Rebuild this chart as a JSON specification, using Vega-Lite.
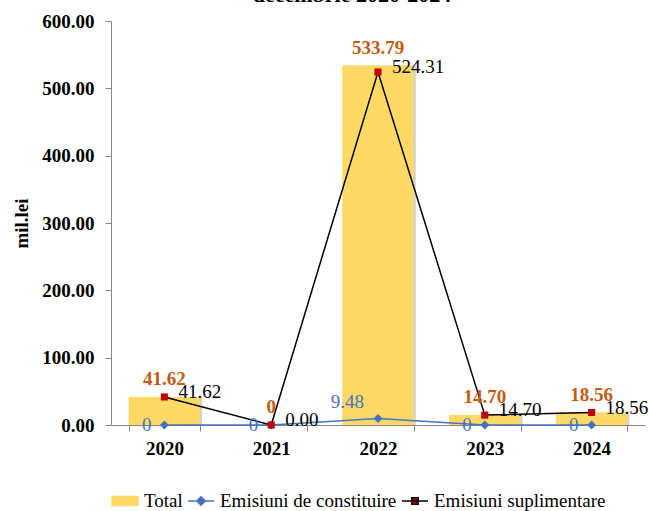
{
  "$schema": "https://vega.github.io/schema/vega-lite/v6.json",
  "width": 534,
  "height": 404,
  "autosize": {"type": "none"},
  "padding": {"left": 111, "top": 21, "right": 4, "bottom": 86},
  "background": "white",
  "title": {"text": "decembrie 2020-2024", "font": "Liberation Serif", "fontSize": 22, "fontWeight": "bold", "color": "black", "dx": -26, "dy": -1},
  "data": {"values": [
    {"year": "2020", "series": "Total", "value": 41.62},
    {"year": "2020", "series": "Emisiuni de constituire", "value": 0},
    {"year": "2020", "series": "Emisiuni suplimentare", "value": 41.62},
    {"year": "2021", "series": "Total", "value": 0},
    {"year": "2021", "series": "Emisiuni de constituire", "value": 0},
    {"year": "2021", "series": "Emisiuni suplimentare", "value": 0},
    {"year": "2022", "series": "Total", "value": 533.79},
    {"year": "2022", "series": "Emisiuni de constituire", "value": 9.48},
    {"year": "2022", "series": "Emisiuni suplimentare", "value": 524.31},
    {"year": "2023", "series": "Total", "value": 14.70},
    {"year": "2023", "series": "Emisiuni de constituire", "value": 0},
    {"year": "2023", "series": "Emisiuni suplimentare", "value": 14.70},
    {"year": "2024", "series": "Total", "value": 18.56},
    {"year": "2024", "series": "Emisiuni de constituire", "value": 0},
    {"year": "2024", "series": "Emisiuni suplimentare", "value": 18.56}
  ]},
  "encoding": {
    "x": {"field": "year", "type": "ordinal", "scale": {"paddingInner": 0.33, "paddingOuter": 0.165},
      "axis": {"title": null, "labelAngle": 0, "labelFont": "Liberation Serif", "labelFontSize": 19, "labelFontWeight": "bold", "labelColor": "black", "tickBand": "extent", "tickSize": 6, "labelPadding": 8, "domainColor": "#868686", "tickColor": "#868686", "grid": false}},
    "y": {"field": "value", "type": "quantitative", "scale": {"domain": [0, 600]},
      "axis": {"title": "mil.lei", "titleFont": "Liberation Serif", "titleFontSize": 19, "titleFontWeight": "bold", "titleColor": "black", "titlePadding": 10, "values": [0, 100, 200, 300, 400, 500, 600], "format": ".2f", "labelFont": "Liberation Serif", "labelFontSize": 19, "labelFontWeight": "bold", "labelColor": "black", "tickSize": 6, "labelPadding": 11, "grid": false, "domainColor": "#868686", "tickColor": "#868686"}}
  },
  "layer": [
    {"transform": [{"filter": "datum.series === 'Total'"}],
     "mark": {"type": "bar", "color": "#000000", "opacity": 0.18, "xOffset": 2}},
    {"transform": [{"filter": "datum.series === 'Total'"}],
     "mark": {"type": "bar", "opacity": 1},
     "encoding": {"color": {"field": "series", "type": "nominal",
       "scale": {"domain": ["Total", "Emisiuni de constituire", "Emisiuni suplimentare"], "range": ["#FFD966", "#4472C4", "#C00000"]},
       "legend": {"orient": "none", "legendX": 0, "legendY": 466, "direction": "horizontal", "columns": 3, "title": null,
         "labelFont": "Liberation Serif", "labelFontSize": 19, "labelColor": "black", "labelLimit": 400, "symbolSize": 676, "labelOffset": 5, "columnPadding": 2, "padding": 0,
         "symbolType": {"expr": "datum.value === 'Total' ? 'M-1,-0.35H1V0.35H-1Z' : datum.value === 'Emisiuni de constituire' ? 'M-1,0H1M0,-0.32L0.32,0L0,0.32L-0.32,0Z' : 'M-1,0H1M-0.25,-0.25H0.25V0.25H-0.25Z'"},
         "symbolStrokeColor": {"expr": "datum.value === 'Total' ? '#FFD966' : datum.value === 'Emisiuni de constituire' ? '#4472C4' : '#000000'"},
         "symbolStrokeWidth": 1.5,
         "symbolOpacity": 1
       }}}},
    {"transform": [{"filter": "datum.series === 'Emisiuni de constituire'"}],
     "mark": {"type": "line", "color": "#4472C4", "strokeWidth": 1.5}},
    {"transform": [{"filter": "datum.series === 'Emisiuni suplimentare'"}],
     "mark": {"type": "line", "color": "#000000", "strokeWidth": 1.5}},
    {"transform": [{"filter": "datum.series === 'Emisiuni de constituire'"}],
     "mark": {"type": "point", "shape": "diamond", "filled": true, "color": "#4472C4", "size": 81, "opacity": 1}},
    {"transform": [{"filter": "datum.series === 'Emisiuni suplimentare'"}],
     "mark": {"type": "point", "shape": "square", "filled": true, "color": "#C00000", "size": 50, "opacity": 1}},
    {"transform": [{"filter": "datum.series === 'Total'"}],
     "mark": {"type": "text", "font": "Liberation Serif", "fontSize": 19, "fontWeight": "bold", "color": "#C55A11", "baseline": "alphabetic", "dy": -12},
     "encoding": {"text": {"condition": {"test": "datum.value === 0", "value": "0"}, "field": "value", "type": "quantitative", "format": ".2f"}}},
    {"transform": [{"filter": "datum.series === 'Emisiuni suplimentare'"}],
     "mark": {"type": "text", "font": "Liberation Serif", "fontSize": 19, "color": "#000000", "align": "left", "baseline": "middle", "dx": 14, "dy": -5},
     "encoding": {"text": {"field": "value", "type": "quantitative", "format": ".2f"}}},
    {"transform": [{"filter": "datum.series === 'Emisiuni de constituire' && datum.value === 0"}],
     "mark": {"type": "text", "font": "Liberation Serif", "fontSize": 19, "color": "#4472C4", "align": "right", "baseline": "middle", "dx": -13, "dy": 0},
     "encoding": {"text": {"value": "0"}}},
    {"transform": [{"filter": "datum.series === 'Emisiuni de constituire' && datum.value !== 0"}],
     "mark": {"type": "text", "font": "Liberation Serif", "fontSize": 19, "color": "#4472C4", "align": "right", "baseline": "middle", "dx": -14, "dy": -17},
     "encoding": {"text": {"field": "value", "type": "quantitative", "format": ".2f"}}}
  ],
  "config": {"view": {"stroke": null}}
}
